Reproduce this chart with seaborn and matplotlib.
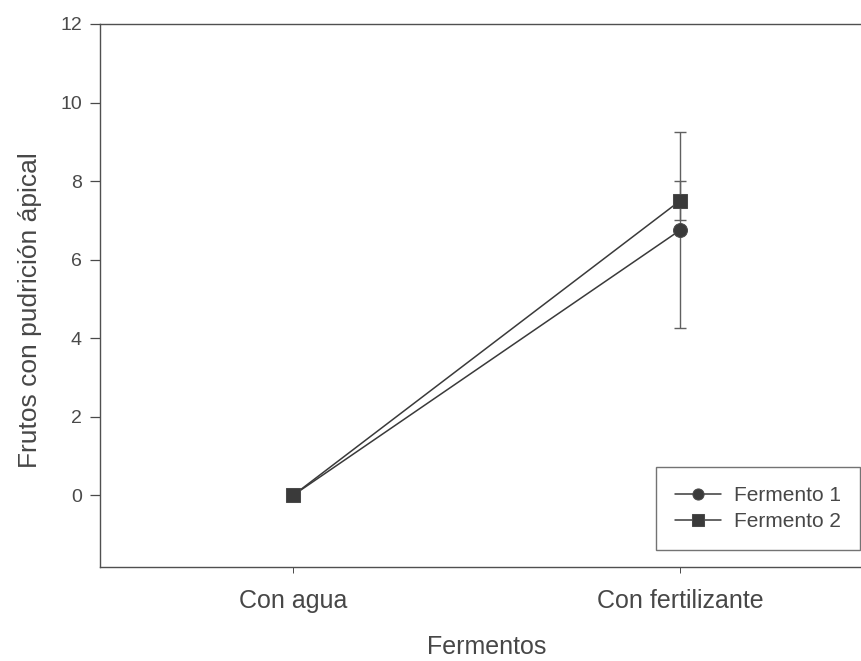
import matplotlib
matplotlib.use("Agg")
import matplotlib.pyplot as plt
import seaborn as sns
import pandas as pd

# Treatment groups and mean counts of fruits with blossom-end rot
tratamientos = ["Con agua", "Con fertilizante"]
fermento_1 = [0.0, 6.75]
fermento_2 = [0.0, 7.5]
error_1 = [0.0, 2.5]
error_2 = [0.0, 0.5]
series = ["Fermento 1", "Fermento 2"]
y_ticks = [0, 2, 4, 6, 8, 10, 12]

df = pd.DataFrame({
    "Fermentos": tratamientos * 2,
    "valor": fermento_1 + fermento_2,
    "serie": [series[0]] * 2 + [series[1]] * 2,
})

sns.set_style("ticks")
plt.rcParams["font.family"] = ["Liberation Sans", "DejaVu Sans"]

ink = "#3a3a3a"
text_col = "#474747"
fig = plt.figure(figsize=(8.62, 6.61), dpi=100)
ax = fig.add_axes([0.116, 0.1422, 0.8974, 0.8215])

sns.lineplot(data=df, x="Fermentos", y="valor", hue="serie", style="serie",
             markers={"Fermento 1": "o", "Fermento 2": "s"}, dashes=False,
             palette={"Fermento 1": ink, "Fermento 2": ink},
             markersize=10, markeredgecolor="#4a4a4a", linewidth=1.1,
             ax=ax, zorder=3)

# error bars for the fertilizer treatment
xpos = [0, 1]
for vals, errs in [(fermento_1, error_1), (fermento_2, error_2)]:
    xs = [x for x, e in zip(xpos, errs) if e > 0]
    ys = [v for v, e in zip(vals, errs) if e > 0]
    es = [e for e in errs if e > 0]
    ax.errorbar(xs, ys, yerr=es, fmt="none", ecolor="#606060",
                elinewidth=1.0, capsize=4.3, capthick=1.0, zorder=2)

ax.set_xlim(-0.5, 1.5)
ax.set_ylim(-1.83, 12)
ax.set_yticks(y_ticks)
ax.set_yticklabels([str(t) for t in y_ticks])
ax.set_xticks(xpos)
ax.set_xticklabels(tratamientos)

ax.set_xlabel("Fermentos", fontsize=18, color=text_col, labelpad=16)
ax.set_ylabel("Frutos con pudrición ápical", fontsize=19, color=text_col, labelpad=13)
ax.yaxis.label.set_y(0.473)
ax.tick_params(axis="y", labelsize=14, colors="#4a4a4a", length=7, width=0.9, pad=6)
ax.tick_params(axis="x", labelsize=18, colors="#4a4a4a", length=4, width=0.7, pad=12)
for t in ax.get_xticklabels():
    t.set_color(text_col)

for s in ax.spines.values():
    s.set_color("#505050")
    s.set_linewidth(1.0)
    s.set_visible(True)

leg = ax.legend(title=None, loc="lower right", bbox_to_anchor=(0.982, 0.031),
                frameon=True, fancybox=False, fontsize=15, handlelength=2.2,
                borderpad=0.9, labelspacing=0.35, handletextpad=0.63,
                borderaxespad=0)
leg.get_frame().set_edgecolor("#505050")
leg.get_frame().set_linewidth(1.0)
for h in leg.legend_handles:
    h.set_markersize(8)
for t in leg.get_texts():
    t.set_color(text_col)

fig.savefig("out.png", dpi=100)
